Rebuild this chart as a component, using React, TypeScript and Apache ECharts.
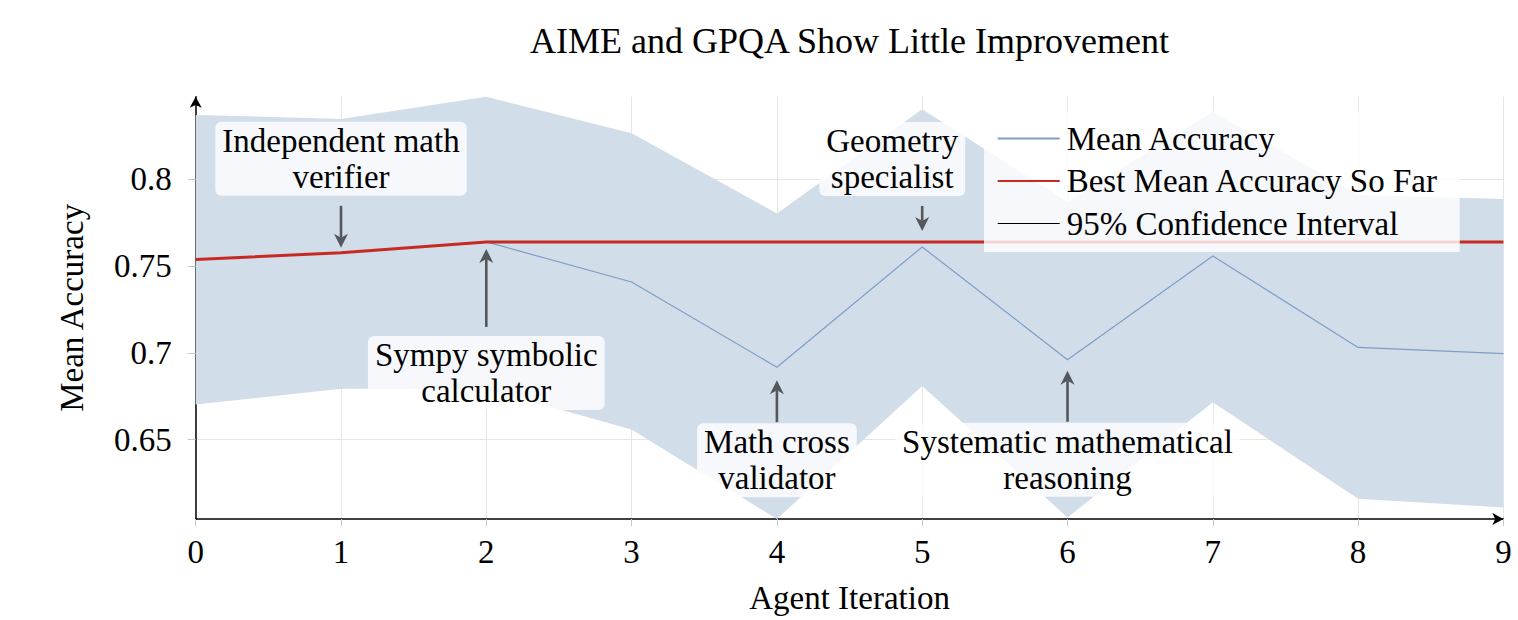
import React, { useEffect, useRef } from 'react';
import * as echarts from 'echarts';

// Agent iterations on the x axis
const iterations = ['0', '1', '2', '3', '4', '5', '6', '7', '8', '9'];
// Mean accuracy per iteration
const meanAccuracy = [0.7538, 0.7576, 0.7639, 0.7408, 0.6917, 0.761, 0.696, 0.7558, 0.7031, 0.6995];
// Best mean accuracy reached up to each iteration
const bestSoFar = [0.7538, 0.7576, 0.7639, 0.7639, 0.7639, 0.7639, 0.7639, 0.7639, 0.7639, 0.7639];
// 95% confidence interval bounds
const ciUpper = [0.8371, 0.8348, 0.8476, 0.8265, 0.7803, 0.8404, 0.787, 0.839, 0.7909, 0.7886];
const ciLower = [0.6702, 0.6793, 0.6792, 0.6558, 0.6042, 0.6808, 0.6051, 0.6715, 0.6158, 0.6109];
// Tick labels on the accuracy axis
const yTicks = [0.65, 0.7, 0.75, 0.8];

// Annotated iterations: which iteration, which curve the arrow points at, and the note
const annotationIters = [1, 2, 4, 5, 6];
const annotationTargets = ['best', 'best', 'mean', 'mean', 'mean'];
const annotationTexts = [
  'Independent math\nverifier',
  'Sympy symbolic\ncalculator',
  'Math cross\nvalidator',
  'Geometry\nspecialist',
  'Systematic mathematical\nreasoning',
];

const FONT = '"Liberation Serif", "Times New Roman", Times, serif';
const BAND = '#d1dde9';
const BLUE = '#7e9ec8';
const RED = '#c62a22';
const ARROW = '#54585d';

// Arrow placement relative to the annotated point (px): tip offset, tail offset, gap to the box, box shift
const annotationLayout = [
  { tip: -5, tail: -47, gap: 10, dx: 0 },
  { tip: 7, tail: 85, gap: 9, dx: 0 },
  { tip: 13, tail: 55, gap: 1, dx: 0 },
  { tip: -16, tail: -41, gap: 10, dx: -30 },
  { tip: 11, tail: 62, gap: 1, dx: 0 },
];

export default function App() {
  const ref = useRef<HTMLDivElement>(null);

  useEffect(() => {
    if (!ref.current) return;
    const chart = echarts.init(ref.current, undefined, { renderer: 'svg' });
    const yMin = Math.min(...ciLower);
    const yMax = Math.max(...ciUpper);
    const ciWidth = ciUpper.map((u, i) => u - ciLower[i]);

    const axisLine = {
      show: true,
      onZero: false,
      lineStyle: { color: '#000', width: 1.5 },
      symbol: ['none', 'arrow'],
      symbolSize: [9, 11],
    };

    chart.setOption({
      animation: false,
      backgroundColor: '#fff',
      title: {
        text: 'AIME and GPQA Show Little Improvement',
        left: 849.5,
        textAlign: 'center',
        top: 23,
        padding: 0,
        textStyle: { fontFamily: FONT, fontSize: 36, fontWeight: 'normal', color: '#000' },
      },
      grid: { left: 195.7, right: 14.6, top: 96.7, bottom: 101, containLabel: false },
      legend: {
        orient: 'vertical',
        left: 984,
        top: 111,
        padding: [11, 21, 12, 12.7],
        backgroundColor: 'rgba(255,255,255,0.8)',
        itemWidth: 62,
        itemHeight: 14,
        itemGap: 9.5,
        selectedMode: false,
        itemStyle: { opacity: 0 },
        textStyle: { fontFamily: FONT, fontSize: 33, color: '#000', lineHeight: 33, padding: [0, 0, 0, 2] },
        data: [
          { name: 'Mean Accuracy' },
          { name: 'Best Mean Accuracy So Far' },
          { name: '95% Confidence Interval', lineStyle: { color: '#000', width: 1.2, opacity: 1 } },
        ],
      },
      xAxis: {
        type: 'category',
        data: iterations,
        boundaryGap: false,
        name: 'Agent Iteration',
        nameLocation: 'middle',
        nameGap: 62,
        nameTextStyle: { fontFamily: FONT, fontSize: 33, color: '#000' },
        axisLine,
        axisTick: { show: true, interval: 0, length: 7, lineStyle: { color: '#c8c8c8' } },
        axisLabel: { interval: 0, fontFamily: FONT, fontSize: 33, color: '#000', margin: 16 },
        splitLine: { show: true, interval: 0, lineStyle: { color: '#e6e6e6', width: 1 } },
      },
      yAxis: {
        type: 'value',
        min: yMin,
        max: yMax,
        name: 'Mean Accuracy',
        nameLocation: 'middle',
        nameRotate: 90,
        nameGap: 107,
        nameTextStyle: { fontFamily: FONT, fontSize: 33, color: '#000' },
        axisLine,
        axisTick: { show: true, length: 8, customValues: yTicks, lineStyle: { color: '#c8c8c8' } },
        axisLabel: {
          customValues: yTicks,
          formatter: (v: number) => String(v),
          fontFamily: FONT,
          fontSize: 33,
          color: '#000',
          margin: 24,
        },
        splitLine: { show: true, lineStyle: { color: '#e6e6e6', width: 1 } },
      },
      series: [
        {
          name: 'ciLower',
          type: 'line',
          data: ciLower,
          stack: 'ci',
          symbol: 'none',
          silent: true,
          lineStyle: { opacity: 0 },
        },
        {
          name: '95% Confidence Interval',
          type: 'line',
          data: ciWidth,
          stack: 'ci',
          symbol: 'none',
          silent: true,
          lineStyle: { opacity: 0, color: '#000' },
          itemStyle: { color: '#000' },
          areaStyle: { color: BAND, opacity: 1 },
        },
        {
          name: 'Mean Accuracy',
          type: 'line',
          data: meanAccuracy,
          symbol: 'none',
          lineStyle: { color: BLUE, width: 1.2 },
          itemStyle: { color: BLUE },
        },
        {
          name: 'Best Mean Accuracy So Far',
          type: 'line',
          data: bestSoFar,
          symbol: 'none',
          lineStyle: { color: RED, width: 3 },
          itemStyle: { color: RED },
        },
      ],
    });

    // Annotation boxes with arrows pointing at the annotated iterations
    const elements: any[] = [];
    annotationIters.forEach((iter, k) => {
      const values = annotationTargets[k] === 'best' ? bestSoFar : meanAccuracy;
      const [px, py] = chart.convertToPixel({ gridIndex: 0 }, [iter, values[iter]]) as number[];
      const L = annotationLayout[k];
      const tipY = py + L.tip;
      const tailY = py + L.tail;
      const dir = tailY < tipY ? 1 : -1; // 1: arrow points down
      const headLen = 14;
      const headHalf = 7;
      elements.push({
        type: 'line',
        z: 100,
        shape: { x1: px, y1: tailY, x2: px, y2: tipY - dir * (headLen - 4) },
        style: { stroke: ARROW, lineWidth: 2.6 },
      });
      elements.push({
        type: 'polygon',
        z: 100,
        shape: {
          points: [
            [px, tipY],
            [px - headHalf, tipY - dir * headLen],
            [px, tipY - dir * (headLen - 4)],
            [px + headHalf, tipY - dir * headLen],
          ],
        },
        style: { fill: ARROW },
      });
      elements.push({
        type: 'text',
        z: 101,
        x: px + L.dx,
        y: tailY - dir * L.gap,
        style: {
          text: annotationTexts[k],
          fill: '#000',
          font: `33px ${FONT}`,
          align: 'center',
          verticalAlign: dir === 1 ? 'bottom' : 'top',
          lineHeight: 36,
          backgroundColor: 'rgba(255,255,255,0.8)',
          padding: [1, 7],
          borderRadius: 6,
        },
      });
    });
    chart.setOption({ graphic: { elements } });

    return () => chart.dispose();
  }, []);

  return (
    <div
      ref={ref}
      style={{ position: 'fixed', left: 0, top: 0, width: 1518, height: 620, background: '#fff' }}
    />
  );
}
